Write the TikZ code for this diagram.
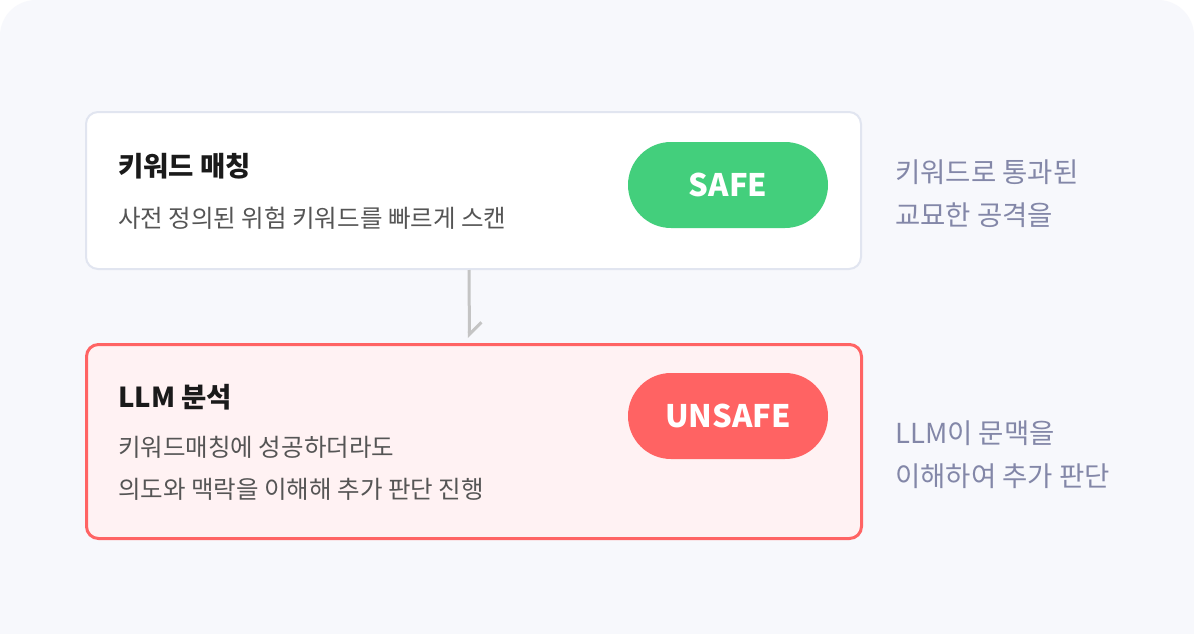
\documentclass[tikz,border=0pt]{standalone}
\usepackage{fontspec}
\setmainfont{Noto Sans CJK KR}
\usetikzlibrary{arrows.meta}
\definecolor{bgpanel}{HTML}{F7F8FC}
\definecolor{cardline}{HTML}{E1E5F0}
\definecolor{alertline}{HTML}{FF6464}
\definecolor{alertfill}{HTML}{FFF2F3}
\definecolor{safegreen}{HTML}{43CF7C}
\definecolor{unsafered}{HTML}{FF6363}
\definecolor{titletext}{HTML}{1A1A1A}
\definecolor{desctext}{HTML}{555555}
\definecolor{notetext}{HTML}{8387A8}
\definecolor{arrowgrey}{HTML}{C4C4C4}

\begin{document}
\begin{tikzpicture}[x=1pt,y=-1pt,
  card/.style={rounded corners=12pt,anchor=north west,inner sep=0pt,
    minimum width=775pt},
  pill/.style={rounded corners=43pt,minimum width=200pt,minimum height=86pt,
    inner sep=0pt,text=white,font=\fontsize{31}{36}\selectfont\bfseries},
  heading/.style={anchor=west,inner sep=0pt,text=titletext,
    font=\fontsize{27.5}{32}\selectfont\bfseries},
  desc/.style={anchor=west,inner sep=0pt,align=left,text=desctext,
    font=\fontsize{24.5}{42}\selectfont},
  note/.style={anchor=west,inner sep=0pt,align=left,text=notetext,
    font=\fontsize{27.5}{43}\selectfont}]
\useasboundingbox (0,0) rectangle (1194,634);
\fill[white] (0,0) rectangle (1194,634);
\fill[bgpanel,rounded corners=36pt] (0,0) rectangle (1194,700);

% keyword stage
\node[card,draw=cardline,line width=2pt,fill=white,minimum height=157pt] (match) at (85,111) {};
\node[heading] (matchtitle) at (118,166) {키워드 매칭};
\node[desc] (matchdesc) at (118,218) {사전 정의된 위험 키워드를 빠르게 스캔};
\node[pill,fill=safegreen] (safe) at (728,185) {SAFE};
\node[note] (matchnote) at (895,194) {키워드로 통과된\\교묘한 공격을};

% llm stage
\node[card,draw=alertline,line width=3pt,fill=alertfill,minimum height=194pt] (llm) at (85,343) {};
\node[heading] (llmtitle) at (118,397) {LLM 분석};
\node[desc] (llmdesc) at (118,468) {키워드매칭에 성공하더라도\\의도와 맥락을 이해해 추가 판단 진행};
\node[pill,fill=unsafered] (unsafe) at (728,416) {UNSAFE};
\node[note] (llmnote) at (895,455) {LLM이 문맥을\\이해하여 추가 판단};

\draw[arrowgrey,line width=3pt,shorten >=5pt,
  -{Straight Barb[left,length=12pt,width=24pt]}]
  ([xshift=-4.5pt]match.south) -- ([xshift=-4.5pt]llm.north);
\end{tikzpicture}
\end{document}
